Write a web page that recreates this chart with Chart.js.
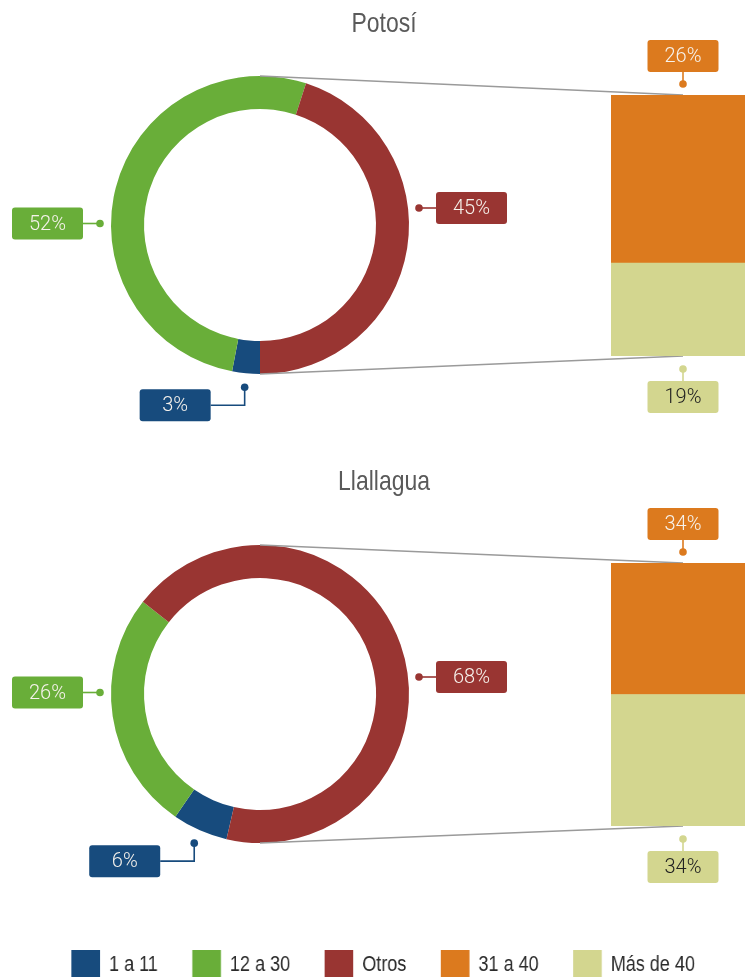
<!DOCTYPE html>
<html>
<head>
<meta charset="utf-8">
<script src="https://cdn.jsdelivr.net/npm/chart.js@4.4.1/dist/chart.umd.min.js"></script>
<style>
  html, body { margin: 0; padding: 0; background: #fff; overflow: hidden; }
  #wrap { position: relative; width: 745px; height: 977px; overflow: hidden; }
  #wrap canvas { position: absolute; left: 0; }
</style>
</head>
<body>
<div id="wrap">
  <canvas id="pie-0" width="745" height="450" style="top:0px"></canvas>
  <canvas id="bar-0" width="755" height="450" style="top:0px"></canvas>
  <canvas id="pie-1" width="745" height="450" style="top:469px"></canvas>
  <canvas id="bar-1" width="755" height="450" style="top:469px"></canvas>
  <!-- leyenda: lienzo de 909px mostrado en 745px => letra estrecha -->
  <canvas id="legend" width="909" height="260" style="top:908px;width:745px;height:260px"></canvas>
</div>
<script>
/* bar-of-pie: Potosí / Llallagua */

// ── Datos ────────────────────────────────────────────
const CATEGORIES    = ['1 a 11', '12 a 30', 'Otros', '31 a 40', 'Más de 40'];
const PIE_LABELS    = ['1 a 11', '12 a 30', 'Otros'];
const BAR_LABELS    = ['Más de 40', '31 a 40'];   // de abajo hacia arriba
const POTOSI_PIE    = [3, 52, 45];
const POTOSI_BAR    = [19, 26];
const LLALLAGUA_PIE = [6, 26, 68];
const LLALLAGUA_BAR = [34, 34];

const COLORS = {
  '1 a 11':    '#174b7d',
  '12 a 30':   '#69ae39',
  'Otros':     '#993532',
  '31 a 40':   '#dc7a1e',
  'Más de 40': '#d3d68f',
};

const SANS = '"Liberation Sans", Arial, sans-serif';
const NARROW_X = 0.82;   // compresión horizontal (tipo "Narrow")
const TAG_FONT = '300 20px Roboto, "Open Sans", sans-serif';
const TAG_W = 71;
const TAG_H = 32;
const LIGHT_TEXT = '#f6f2ec';
const DARK_TEXT  = '#222';

const PANELS = [
  { id: 0, title: 'Potosí',    pie: POTOSI_PIE,    bar: POTOSI_BAR,    titleY: 32, rotation: 180, barMin: 4.6, barPad: { top: 95, bottom: 94 } },
  { id: 1, title: 'Llallagua', pie: LLALLAGUA_PIE, bar: LLALLAGUA_BAR, titleY: 21, rotation: 193, barMin: 0,   barPad: { top: 94, bottom: 93 } },
];
// dónde va la etiqueta de cada segmento del anillo
const PIE_PLACES = ['below', 'left', 'right'];

// ── Helpers de dibujo ────────────────────────────────
function drawDot(ctx, x, y, color) {
  ctx.fillStyle = color;
  ctx.beginPath();
  ctx.arc(x, y, 3.8, 0, Math.PI * 2);
  ctx.fill();
}

function drawLink(ctx, pts, color) {
  ctx.strokeStyle = color;
  ctx.lineWidth = 1.6;
  ctx.beginPath();
  ctx.moveTo(pts[0][0], pts[0][1]);
  for (let i = 1; i < pts.length; i++) ctx.lineTo(pts[i][0], pts[i][1]);
  ctx.stroke();
}

function drawTag(ctx, x, y, text, color, textColor) {
  ctx.fillStyle = color;
  ctx.beginPath();
  ctx.roundRect(x, y, TAG_W, TAG_H, 3);
  ctx.fill();
  ctx.fillStyle = textColor;
  ctx.font = TAG_FONT;
  ctx.textAlign = 'center';
  ctx.textBaseline = 'middle';
  ctx.fillText(text, x + TAG_W / 2, y + TAG_H / 2 + 1);
}

// etiquetas del anillo + título
function makePiePlugin(panel) {
  return {
    id: 'pieTags' + panel.id,
    afterDatasetsDraw(chart) {
      const ctx = chart.ctx;
      const arcs = chart.getDatasetMeta(0).data;
      const ds = chart.data.datasets[0];
      ctx.save();
      arcs.forEach((arc, i) => {
        const { x: cx, y: cy, outerRadius: r, startAngle, endAngle } =
          arc.getProps(['x', 'y', 'outerRadius', 'startAngle', 'endAngle'], true);
        const color = ds.backgroundColor[i];
        const text = ds.data[i] + '%';
        const place = PIE_PLACES[i];
        if (place === 'left') {
          const dx = cx - r - 11, dy = cy - 1.5;
          const bx = dx - 17 - TAG_W;
          drawLink(ctx, [[dx, dy], [bx + TAG_W, dy]], color);
          drawDot(ctx, dx, dy, color);
          drawTag(ctx, bx, dy - TAG_H / 2, text, color, LIGHT_TEXT);
        } else if (place === 'right') {
          const dx = cx + r + 10, dy = cy - 17;
          const bx = dx + 17;
          drawLink(ctx, [[dx, dy], [bx, dy]], color);
          drawDot(ctx, dx, dy, color);
          drawTag(ctx, bx, dy - TAG_H / 2, text, color, LIGHT_TEXT);
        } else {
          const mid = (startAngle + endAngle) / 2;
          const dx = cx + Math.cos(mid) * (r + 14);
          const dy = cy + Math.sin(mid) * (r + 14);
          const bx = dx - 34 - TAG_W, by = dy + 2;
          drawLink(ctx, [[dx, dy], [dx, by + TAG_H / 2], [bx + TAG_W, by + TAG_H / 2]], color);
          drawDot(ctx, dx, dy, color);
          drawTag(ctx, bx, by, text, color, LIGHT_TEXT);
        }
      });
      // título (letra estrecha)
      ctx.translate(384, panel.titleY);
      ctx.scale(NARROW_X, 1);
      ctx.fillStyle = '#5a5a5a';
      ctx.font = '28px ' + SANS;
      ctx.textAlign = 'center';
      ctx.textBaseline = 'alphabetic';
      ctx.fillText(panel.title, 0, 0);
      ctx.restore();
    },
  };
}

// líneas de unión + etiquetas de la barra
function makeBarPlugin(panel, pieChart) {
  return {
    id: 'barTags' + panel.id,
    beforeDatasetsDraw(chart) {
      const ctx = chart.ctx;
      const arc = pieChart.getDatasetMeta(0).data[0];
      const area = chart.chartArea;
      const x = chart.getDatasetMeta(1).data[0].x;
      ctx.save();
      ctx.strokeStyle = '#9a9a9a';
      ctx.lineWidth = 1.3;
      ctx.beginPath();
      ctx.moveTo(arc.x, arc.y - arc.outerRadius);
      ctx.lineTo(x, area.top);
      ctx.moveTo(arc.x, arc.y + arc.outerRadius);
      ctx.lineTo(x, area.bottom);
      ctx.stroke();
      ctx.restore();
    },
    afterDatasetsDraw(chart) {
      const ctx = chart.ctx;
      const area = chart.chartArea;
      const low = chart.getDatasetMeta(0).data[0];
      const high = chart.getDatasetMeta(1).data[0];
      const dsLow = chart.data.datasets[0];
      const dsHigh = chart.data.datasets[1];
      ctx.save();
      // arriba: 31 a 40
      let dy = Math.max(high.y, area.top) - 11;
      drawLink(ctx, [[high.x, dy], [high.x, dy - 12]], dsHigh.backgroundColor);
      drawDot(ctx, high.x, dy, dsHigh.backgroundColor);
      drawTag(ctx, high.x - TAG_W / 2, dy - 12 - TAG_H, dsHigh.data[0] + '%', dsHigh.backgroundColor, LIGHT_TEXT);
      // abajo: Más de 40
      dy = Math.min(low.base, area.bottom) + 13;
      drawLink(ctx, [[low.x, dy], [low.x, dy + 12]], dsLow.backgroundColor);
      drawDot(ctx, low.x, dy, dsLow.backgroundColor);
      drawTag(ctx, low.x - TAG_W / 2, dy + 12, dsLow.data[0] + '%', dsLow.backgroundColor, DARK_TEXT);
      ctx.restore();
    },
  };
}

// ── Gráficos ─────────────────────────────────────────
const common = {
  responsive: false,
  animation: false,
  events: [],
};

PANELS.forEach(panel => {
  const pieChart = new Chart(document.getElementById('pie-' + panel.id), {
    type: 'doughnut',
    data: {
      labels: PIE_LABELS,
      datasets: [{
        data: panel.pie,
        backgroundColor: PIE_LABELS.map(l => COLORS[l]),
        borderWidth: 0,
        hoverOffset: 0,
      }],
    },
    options: {
      ...common,
      radius: 149,
      cutout: 116,
      rotation: panel.rotation,
      layout: { padding: { left: 111, right: 336, top: 76, bottom: 76 } },
      plugins: { legend: { display: false }, tooltip: { enabled: false } },
    },
    plugins: [makePiePlugin(panel)],
  });

  const barMax = panel.bar.reduce((a, b) => a + b, 0);
  new Chart(document.getElementById('bar-' + panel.id), {
    type: 'bar',
    data: {
      labels: ['Otros'],
      datasets: BAR_LABELS.map((l, i) => ({
        label: l,
        data: [panel.bar[i]],
        backgroundColor: COLORS[l],
        borderWidth: 0,
        barPercentage: 1,
        categoryPercentage: 1,
        clip: 0,
      })),
    },
    options: {
      ...common,
      layout: { padding: { left: 611, right: 0, top: panel.barPad.top, bottom: panel.barPad.bottom } },
      scales: {
        x: { display: false, stacked: true },
        y: { display: false, stacked: true, min: panel.barMin, max: barMax },
      },
      plugins: { legend: { display: false }, tooltip: { enabled: false } },
    },
    plugins: [makeBarPlugin(panel, pieChart)],
  });
});

// leyenda (medidas en px del lienzo ancho; se comprime a 0.82)
new Chart(document.getElementById('legend'), {
  type: 'bar',
  data: {
    labels: [],
    datasets: CATEGORIES.map(c => ({ label: c, data: [], backgroundColor: COLORS[c], borderWidth: 0 })),
  },
  options: {
    ...common,
    layout: { padding: { left: 26 } },
    scales: { x: { display: false }, y: { display: false } },
    plugins: {
      tooltip: { enabled: false },
      legend: {
        position: 'top',
        labels: {
          boxWidth: 35,
          boxHeight: 29,
          padding: 42,
          color: '#2b2b2b',
          font: { family: SANS, size: 22 },
        },
      },
    },
  },
});
</script>
</body>
</html>
